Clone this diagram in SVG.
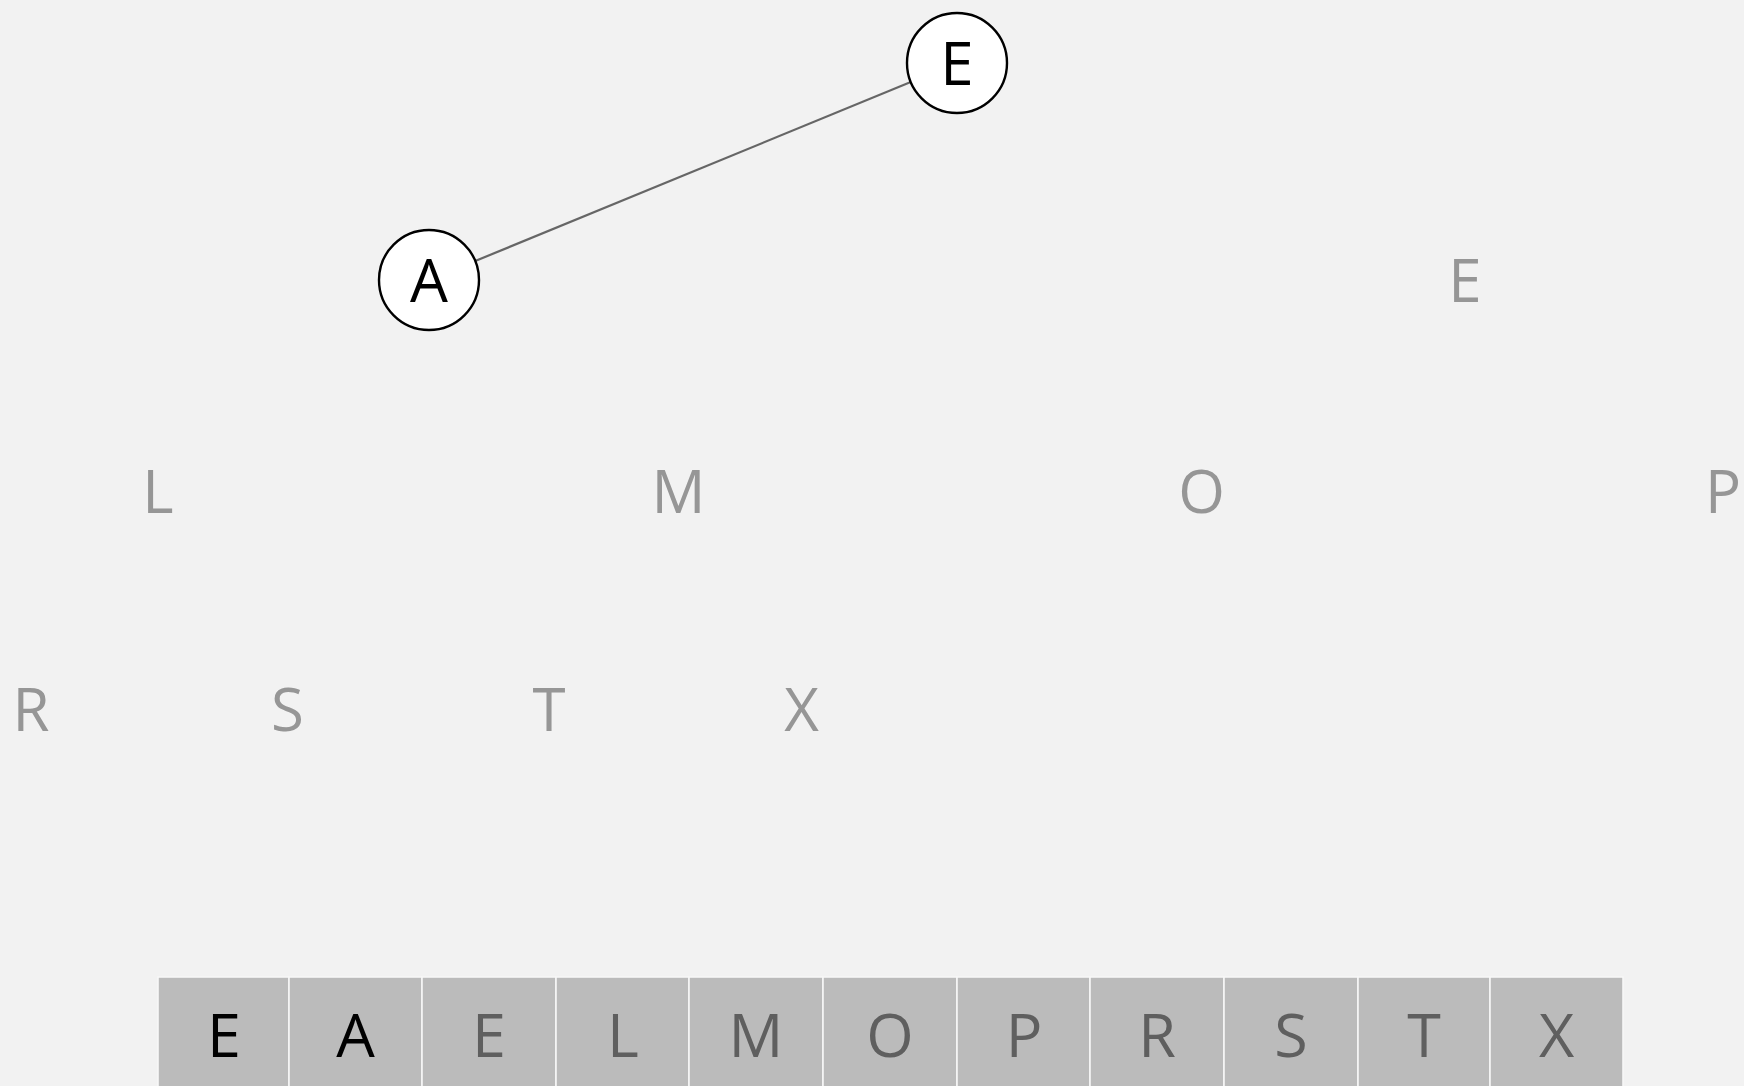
<svg xmlns="http://www.w3.org/2000/svg" width="1744" height="1086" viewBox="0 0 1744 1086">
<style>
  .bg { fill: #f2f2f2; }
  .node circle { fill: #ffffff; stroke: #000000; stroke-width: 2.4; }
  .node text { font-family: "Open Sans", "Noto Sans", "Liberation Sans", sans-serif; font-size: 60px; fill: #000000; text-anchor: middle; }
  .ghost text { font-family: "Open Sans", "Noto Sans", "Liberation Sans", sans-serif; font-size: 60px; fill: #969696; text-anchor: middle; }
  .cell rect { fill: #bbbbbb; stroke: #f7f7f7; stroke-width: 1.6; }
  .cell text { font-family: "Open Sans", "Noto Sans", "Liberation Sans", sans-serif; font-size: 61px; fill: #5f5f5f; text-anchor: middle; }
  .cell text.active { fill: #000000; }
  .edge { stroke: #666666; stroke-width: 2.2; fill: none; }
</style>
<rect class="bg" x="0" y="0" width="1744" height="1086"/>
<g id="connectors">
  <line class="edge" x1="429" y1="280" x2="957" y2="63"/>
</g>
<g id="node-E-root" class="node">
  <circle cx="957" cy="63" r="50"/>
  <text x="957" y="85">E</text>
</g>
<g id="node-A" class="node">
  <circle cx="429" cy="280" r="50"/>
  <text x="429" y="302">A</text>
</g>
<g id="node-E2" class="ghost"><text x="1465" y="302">E</text></g>
<g id="node-L" class="ghost"><text x="158" y="513">L</text></g>
<g id="node-M" class="ghost"><text x="678.5" y="513">M</text></g>
<g id="node-O" class="ghost"><text x="1201.5" y="513">O</text></g>
<g id="node-P" class="ghost"><text x="1723" y="513">P</text></g>
<g id="node-R" class="ghost"><text x="31" y="731">R</text></g>
<g id="node-S" class="ghost"><text x="287.5" y="731">S</text></g>
<g id="node-T" class="ghost"><text x="549" y="731">T</text></g>
<g id="node-X" class="ghost"><text x="801.5" y="731">X</text></g>
<g id="array">
  <g id="cell-1" class="cell"><rect x="158" y="977" width="131" height="120"/><text class="active" x="224" y="1057">E</text></g>
  <g id="cell-2" class="cell"><rect x="289" y="977" width="133" height="120"/><text class="active" x="355.5" y="1057">A</text></g>
  <g id="cell-3" class="cell"><rect x="422" y="977" width="134" height="120"/><text x="489" y="1057">E</text></g>
  <g id="cell-4" class="cell"><rect x="556" y="977" width="133" height="120"/><text x="623" y="1057">L</text></g>
  <g id="cell-5" class="cell"><rect x="689" y="977" width="134" height="120"/><text x="756" y="1057">M</text></g>
  <g id="cell-6" class="cell"><rect x="823" y="977" width="134" height="120"/><text x="890" y="1057">O</text></g>
  <g id="cell-7" class="cell"><rect x="957" y="977" width="133" height="120"/><text x="1024" y="1057">P</text></g>
  <g id="cell-8" class="cell"><rect x="1090" y="977" width="134" height="120"/><text x="1157" y="1057">R</text></g>
  <g id="cell-9" class="cell"><rect x="1224" y="977" width="134" height="120"/><text x="1291" y="1057">S</text></g>
  <g id="cell-10" class="cell"><rect x="1358" y="977" width="132" height="120"/><text x="1424" y="1057">T</text></g>
  <g id="cell-11" class="cell"><rect x="1490" y="977" width="133" height="120"/><text x="1556.5" y="1057">X</text></g>
</g>
</svg>
